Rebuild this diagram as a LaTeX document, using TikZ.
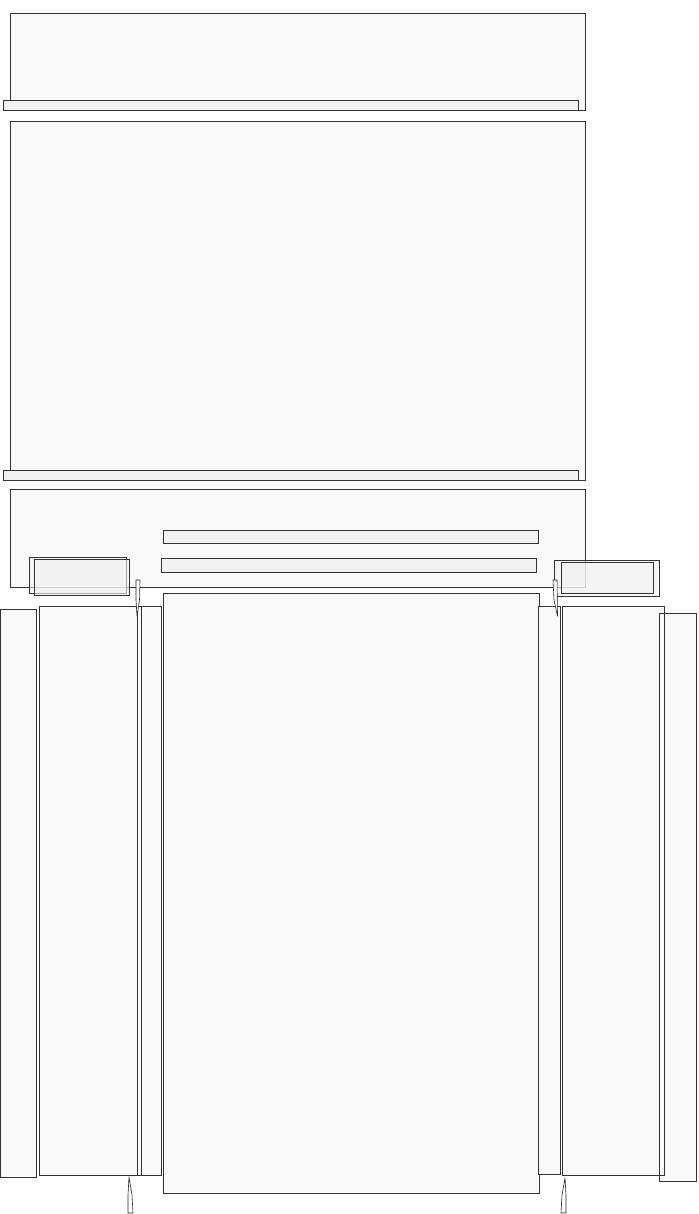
\documentclass[tikz,border=0pt]{standalone}
\begin{document}
\begin{tikzpicture}[x=1pt,y=-1pt,
  panel/.style={draw=black!80,fill=black!2.5,line width=0.7pt},
  outline/.style={draw=black!80,line width=0.7pt},
  strip/.style={draw=black!80,fill=black!5,line width=0.7pt},
  tab/.style={draw=black!80,fill=black!5,line width=0.7pt,fill opacity=0.6},
  blade/.style={draw=black!85,fill=white,line width=0.6pt,line join=round}]
\useasboundingbox (0,0) rectangle (698,1214);
% top panels
\draw[panel] (10,13) rectangle (585,110);
\draw[strip] (3,100) rectangle (578,110);
\draw[panel] (10,121) rectangle (585,480);
\draw[strip] (3,470) rectangle (578,480);
\draw[panel] (10,489) rectangle (585,587);
\draw[strip] (163,530) rectangle (538,543);
\draw[strip] (161,558) rectangle (536,572);
% small tabs
\draw[tab] (29,557) rectangle (126,593);
\draw[tab] (34,559) rectangle (129,595);
\draw[tab] (554,560) rectangle (659,596);
\draw[tab] (561,562) rectangle (653,593);
% columns
\draw[panel] (0,609) rectangle (36,1177);
\draw[panel] (39,606) rectangle (141,1175);
\draw[panel] (137,606) rectangle (161,1175);
\draw[outline] (39,606) rectangle (141,1175);
\draw[panel] (163,593) rectangle (539,1193);
\draw[panel] (538,606) rectangle (560,1174);
\draw[panel] (562,606) rectangle (664,1175);
\draw[panel] (659,613) rectangle (696,1181);
\draw[outline] (562,606) rectangle (664,1175);
% blades
\draw[blade] (136,580) -- (140,580) -- (139.5,600) -- (137,616) -- (136,600) -- cycle;
\draw[blade] (553,580) -- (557,580) -- (557.5,616) -- (554,600) -- cycle;
\draw[blade] (129,1177) -- (132,1195) -- (133,1213) -- (128,1213) -- (128,1195) -- cycle;
\draw[blade] (565,1178) -- (566,1195) -- (566,1213) -- (561,1213) -- (562,1195) -- cycle;
\end{tikzpicture}
\end{document}
